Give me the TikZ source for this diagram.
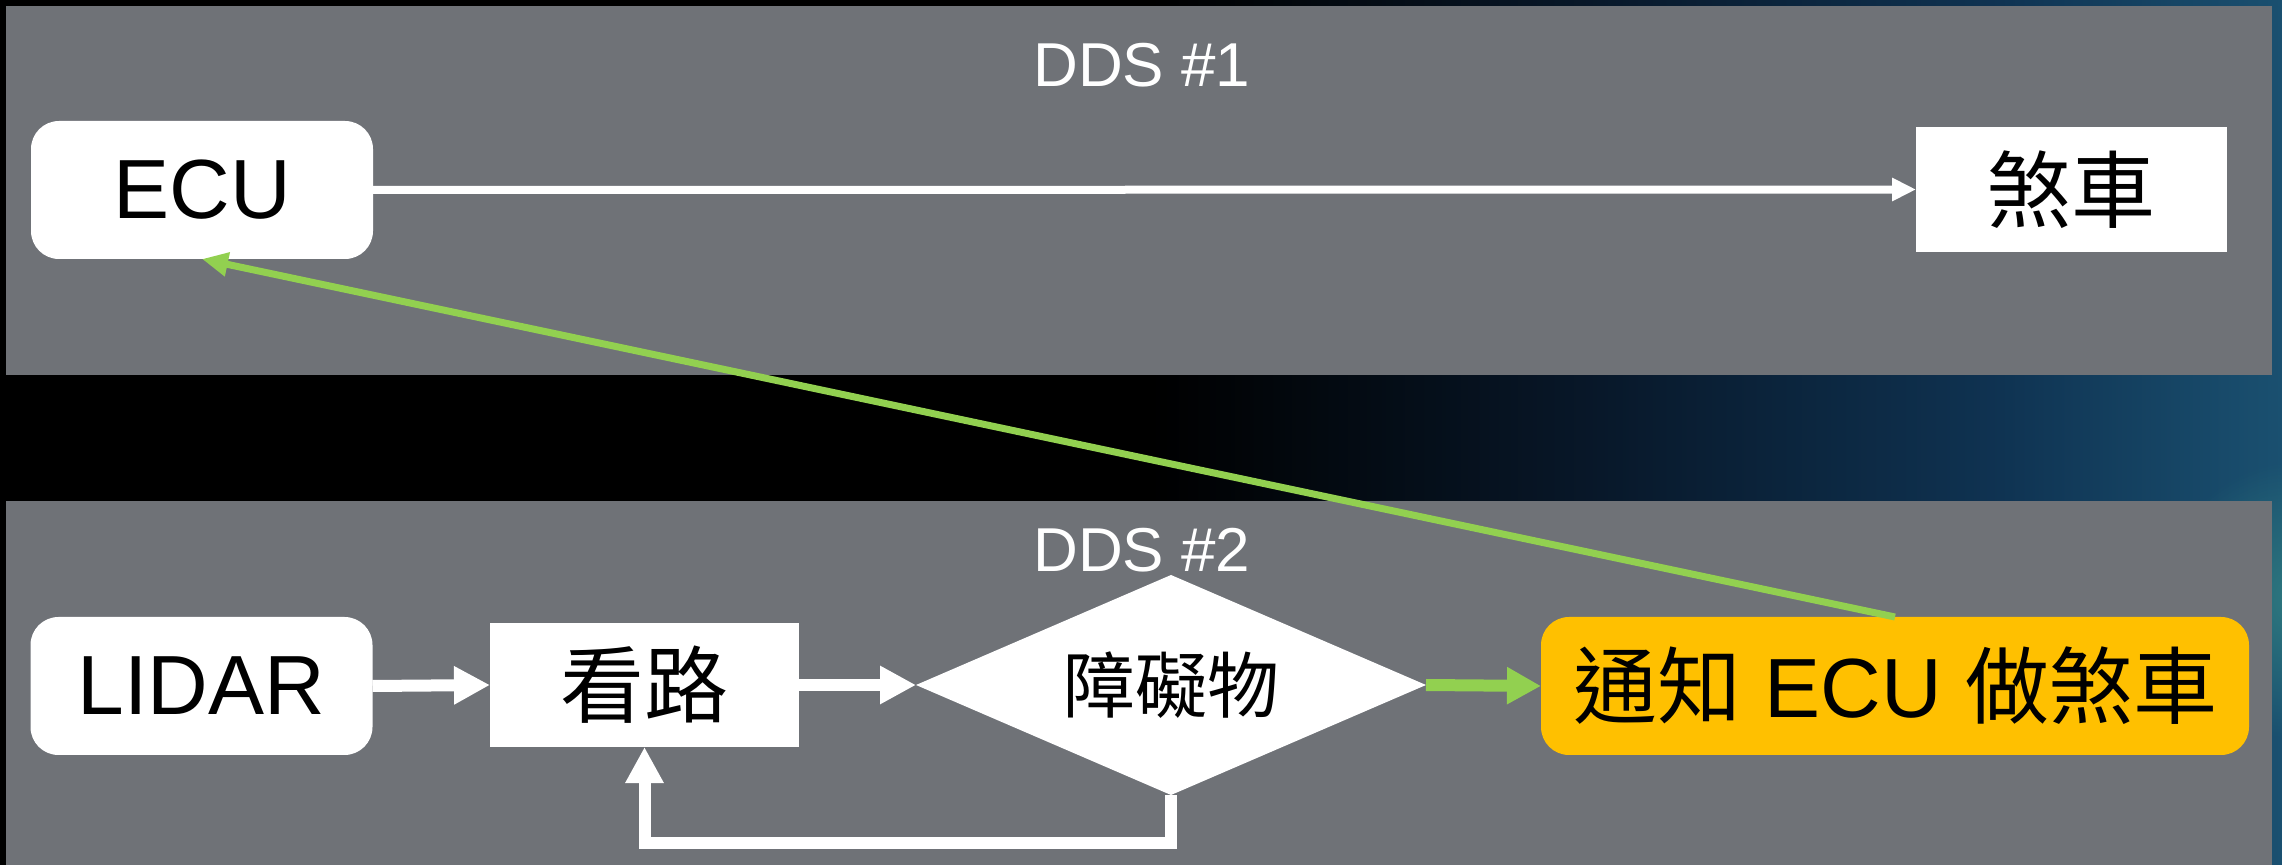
\documentclass[tikz,border=0pt]{standalone}
\usepackage{fontspec}
\setmainfont{Liberation Sans}
\newfontfamily\cjk{Noto Sans CJK TC}
\usetikzlibrary{arrows.meta,shapes.geometric,fadings}
\definecolor{panelgray}{HTML}{6F7277}
\definecolor{okgreen}{HTML}{92D050}
\definecolor{amber}{HTML}{FFC000}
\definecolor{bgA}{HTML}{08182A}
\definecolor{bgB}{HTML}{0F3352}
\definecolor{bgC}{HTML}{1A5070}
\definecolor{glowteal}{HTML}{2F7A80}
\tikzfading[name=glowfade, inner color=transparent!0, outer color=transparent!100]
\tikzset{
  boxbase/.style={fill=white, text=black, inner sep=0pt, outer sep=0pt, align=center,
    font=\fontsize{42}{50}\selectfont},
  roundbox/.style={boxbase, rounded corners=14pt, minimum width=171pt, minimum height=69pt},
  sqbox/.style={boxbase},
  paneltitle/.style={text=white, inner sep=0pt, font=\fontsize{31}{36}\selectfont},
  wline/.style={draw=white, line width=6pt, -{Triangle[width=18pt,length=18pt]}},
  thinwline/.style={draw=white, line width=4pt, -{Triangle[width=11pt,length=12pt]}},
  gline/.style={draw=okgreen, line width=6pt, -{Triangle[width=17.5pt,length=17pt]}},
  slimgline/.style={draw=okgreen, line width=3.5pt, -{Triangle[width=11.5pt,length=13pt]}}
}
\begin{document}
\begin{tikzpicture}[x=0.5pt,y=-0.5pt]
\useasboundingbox (0,0) rectangle (2282,865);
% background
\fill[black] (0,0) rectangle (1152,865);
\shade[left color=black, right color=bgA] (1150,0) rectangle (1602,865);
\shade[left color=bgA, right color=bgB] (1600,0) rectangle (2002,865);
\shade[left color=bgB, right color=bgC] (2000,0) rectangle (2282,865);
\fill[glowteal, path fading=glowfade] (2300,600) circle (140);
% panels
\fill[panelgray] (6,6) rectangle (2272,375);
\fill[panelgray] (6,501) rectangle (2272,865);
\node[paneltitle] (dds1) at (1142,65) {DDS \#1};
\node[paneltitle] (dds2) at (1142,550) {DDS \#2};
% nodes
\node[roundbox] (ecu) at (202,190) {ECU};
\node[sqbox, minimum width=155.5pt, minimum height=62.5pt] (brake) at (2071.5,189.5) {\cjk 煞車};
\node[roundbox] (lidar) at (201.5,686) {LIDAR};
\node[sqbox, minimum width=154.5pt, minimum height=62pt] (road) at (644.5,685) {\cjk 看路};
\node[diamond, fill=white, text=black, inner sep=0pt, outer sep=0pt, shape aspect=2.318,
      minimum width=255pt, minimum height=110pt, font=\cjk\fontsize{36}{42}\selectfont]
      (obst) at (1171,685) {障礙物};
\node[roundbox, fill=amber, minimum width=354pt] (notify) at (1895,686) {{\cjk 通知} ECU {\cjk 做煞車}};
% connectors
\coordinate (loopy) at (0,843);
\draw[thinwline] (ecu.east) -- (brake.west);
\draw[wline] (lidar.east) -- (road.west);
\draw[wline] (road.east) -- (obst.west);
\draw[wline] (obst.south) -- (obst.south |- loopy) -| (road.south);
\draw[gline] (obst.east) -- (notify.west);
\draw[slimgline] (notify.north) -- (ecu.south);
\end{tikzpicture}
\end{document}
